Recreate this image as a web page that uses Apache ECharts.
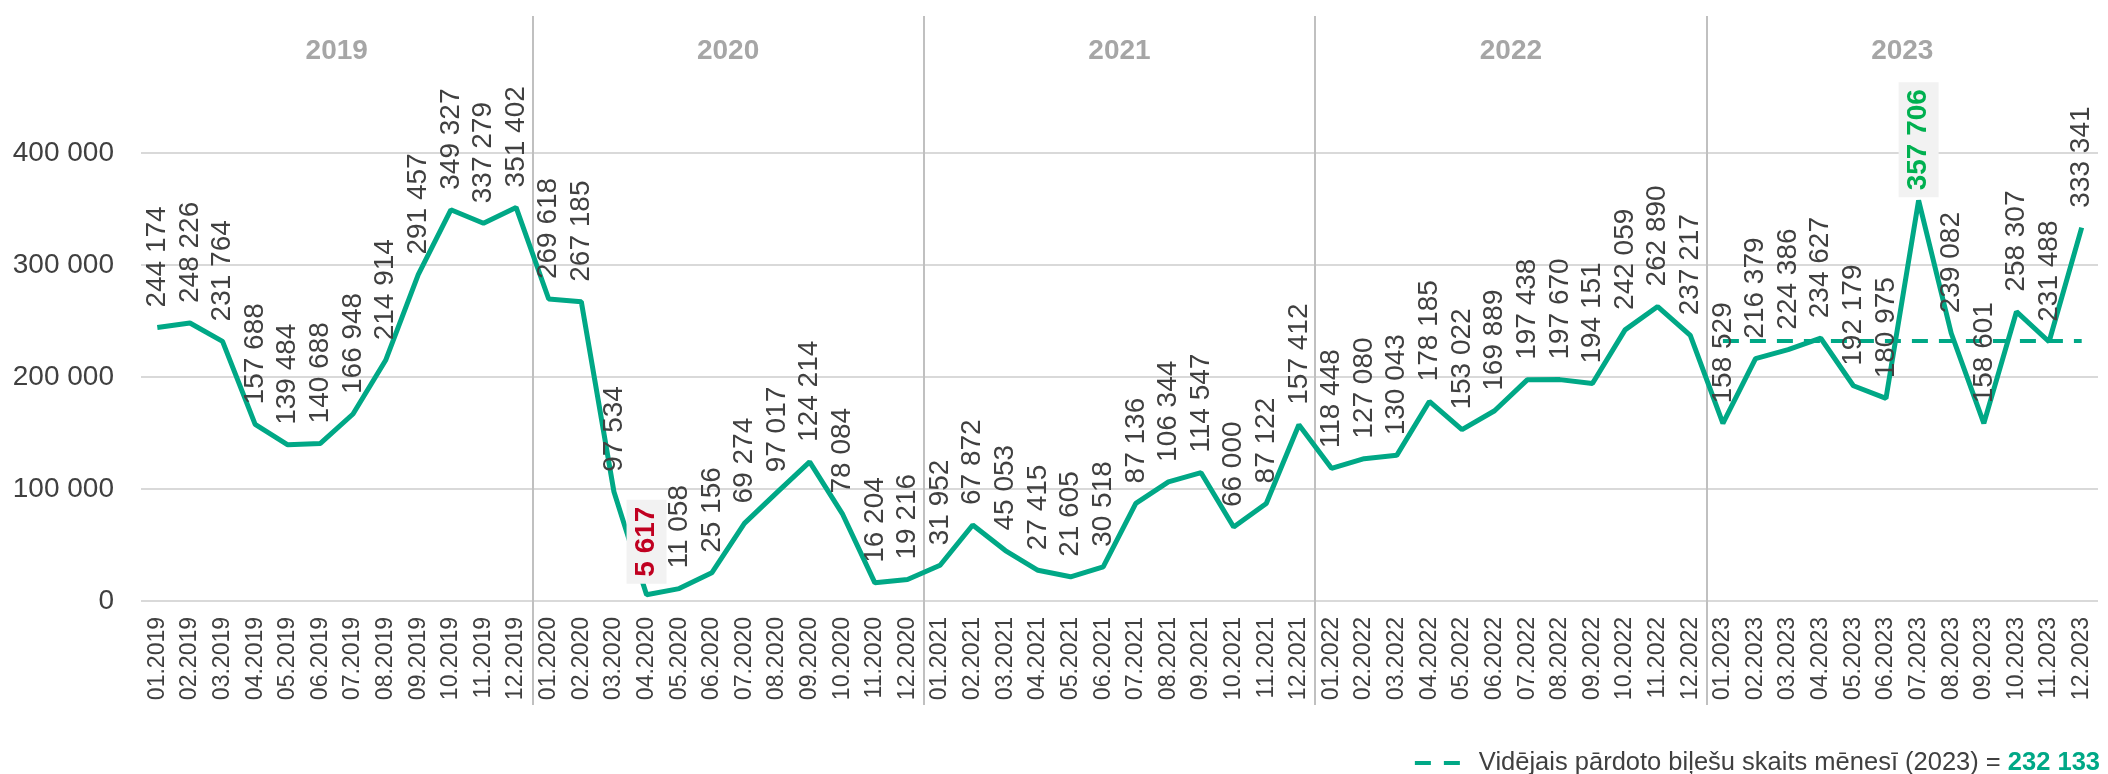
<!DOCTYPE html>
<html><head><meta charset="utf-8">
<script src="https://cdn.jsdelivr.net/npm/echarts@6/dist/echarts.min.js"></script>
<style>html,body{margin:0;padding:0;background:#fff}#c{width:2108px;height:774px}</style>
</head><body><div id="c"></div>
<script>
const years = ['2019', '2020', '2021', '2022', '2023'];
const categories = [
  '01.2019','02.2019','03.2019','04.2019','05.2019','06.2019','07.2019','08.2019','09.2019','10.2019','11.2019','12.2019',
  '01.2020','02.2020','03.2020','04.2020','05.2020','06.2020','07.2020','08.2020','09.2020','10.2020','11.2020','12.2020',
  '01.2021','02.2021','03.2021','04.2021','05.2021','06.2021','07.2021','08.2021','09.2021','10.2021','11.2021','12.2021',
  '01.2022','02.2022','03.2022','04.2022','05.2022','06.2022','07.2022','08.2022','09.2022','10.2022','11.2022','12.2022',
  '01.2023','02.2023','03.2023','04.2023','05.2023','06.2023','07.2023','08.2023','09.2023','10.2023','11.2023','12.2023'
];
const tickets2019 = [244174, 248226, 231764, 157688, 139484, 140688, 166948, 214914, 291457, 349327, 337279, 351402];
const tickets2020 = [269618, 267185, 97534, 5617, 11058, 25156, 69274, 97017, 124214, 78084, 16204, 19216];
const tickets2021 = [31952, 67872, 45053, 27415, 21605, 30518, 87136, 106344, 114547, 66000, 87122, 157412];
const tickets2022 = [118448, 127080, 130043, 178185, 153022, 169889, 197438, 197670, 194151, 242059, 262890, 237217];
const tickets2023 = [158529, 216379, 224386, 234627, 192179, 180975, 357706, 239082, 158601, 258307, 231488, 333341];
const avg2023 = 232133;
const avgYear = '2023';
const avgLabel = 'Vidējais pārdoto biļešu skaits mēnesī (2023)';

const tickets = [].concat(tickets2019, tickets2020, tickets2021, tickets2022, tickets2023);
const minIdx = tickets.indexOf(Math.min.apply(null, tickets));
const maxIdx = tickets.indexOf(Math.max.apply(null, tickets));
const fmt = v => String(v).replace(/\B(?=(\d{3})+(?!\d))/g, ' ');

const GREEN = '#00a886';
const FONT = '"Liberation Sans", Arial, sans-serif';

// layout
const W = 2108, GL = 141, GR = 10;
const monthsPerYear = 12;
const catW = (W - GL - GR) / categories.length;

const lineData = tickets.map((v, i) => {
  if (i === minIdx) return { value: v, label: { fontWeight: 'bold', color: '#c00020', backgroundColor: '#f2f2f2', padding: [6, 7, 6, 7], distance: 11 } };
  if (i === maxIdx) return { value: v, label: { fontWeight: 'bold', color: '#00b050', backgroundColor: '#f2f2f2', padding: [6, 7, 6, 7], distance: 3 } };
  return v;
});
const avgData = categories.map(c => c.endsWith(avgYear) ? avg2023 : null);

const chart = echarts.init(document.getElementById('c'), null, { renderer: 'canvas' });
chart.setOption({
  animation: false,
  textStyle: { fontFamily: FONT },
  grid: [
    { left: GL, right: GR, top: 18.6, bottom: 173 },
    // helper grid spanning the inner year boundaries (for separators)
    { left: GL + monthsPerYear * catW, right: GR + monthsPerYear * catW, top: 16, bottom: 69 }
  ],
  xAxis: [{
    type: 'category', data: categories, boundaryGap: true, gridIndex: 0,
    axisLine: { show: false }, axisTick: { show: false }, splitLine: { show: false },
    axisLabel: { interval: 0, rotate: 90, margin: 16, fontSize: 23, color: '#404040', fontFamily: FONT }
  }, {
    type: 'category', data: years, position: 'top', boundaryGap: true, gridIndex: 0,
    axisLine: { show: false }, axisTick: { show: false }, splitLine: { show: false },
    axisLabel: { inside: true, margin: 19, fontSize: 28, fontWeight: 'bold', color: '#a6a6a6', fontFamily: FONT }
  }, {
    type: 'category', data: years.slice(1, years.length - 1), boundaryGap: true, gridIndex: 1,
    axisLine: { show: false }, axisTick: { show: false }, axisLabel: { show: false },
    splitLine: { show: true, interval: 0, lineStyle: { color: '#c0c0c0', width: 2 } }
  }],
  yAxis: [{
    type: 'value', min: 0, max: 520000, interval: 100000, gridIndex: 0,
    axisLine: { show: false }, axisTick: { show: false },
    axisLabel: { formatter: v => (v <= 400000 ? fmt(v) : ''), fontSize: 28, color: '#404040', margin: 27, fontFamily: FONT },
    splitLine: { lineStyle: { color: ['#d9d9d9', '#d9d9d9', '#d9d9d9', '#d9d9d9', '#d9d9d9', 'rgba(0,0,0,0)', 'rgba(0,0,0,0)'], width: 2 } }
  }, {
    type: 'value', gridIndex: 1, show: false, splitLine: { show: false }
  }],
  legend: {
    data: [{ name: avgLabel, icon: 'path://M0,0h16v4h-16z M29,0h16v4h-16z' }],
    right: 3, top: 745, itemWidth: 45, itemHeight: 4,
    itemStyle: { color: GREEN },
    formatter: n => '{a|' + n + ' = }{b|' + fmt(avg2023) + '}',
    textStyle: { rich: {
      a: { fontSize: 25.5, color: '#404040', fontFamily: FONT, padding: [0, 0, 0, 14] },
      b: { fontSize: 25.5, color: GREEN, fontWeight: 'bold', fontFamily: FONT }
    } }
  },
  series: [{
    type: 'line', name: 'Pārdotās biļetes', data: lineData, symbol: 'circle', symbolSize: 0, showSymbol: true, z: 3,
    xAxisIndex: 0, yAxisIndex: 0,
    lineStyle: { color: GREEN, width: 5 }, itemStyle: { color: GREEN },
    labelLayout: { hideOverlap: false },
    label: { show: true, position: 'top', rotate: 90, align: 'left', verticalAlign: 'middle', distance: 20,
      fontSize: 28, color: '#404040', fontFamily: FONT, formatter: p => fmt(p.value) }
  }, {
    type: 'line', name: avgLabel, data: avgData, symbol: 'none', z: 2,
    xAxisIndex: 0, yAxisIndex: 0,
    lineStyle: { color: GREEN, width: 4, type: [16, 11] }, itemStyle: { color: GREEN }
  }]
});
</script></body></html>
